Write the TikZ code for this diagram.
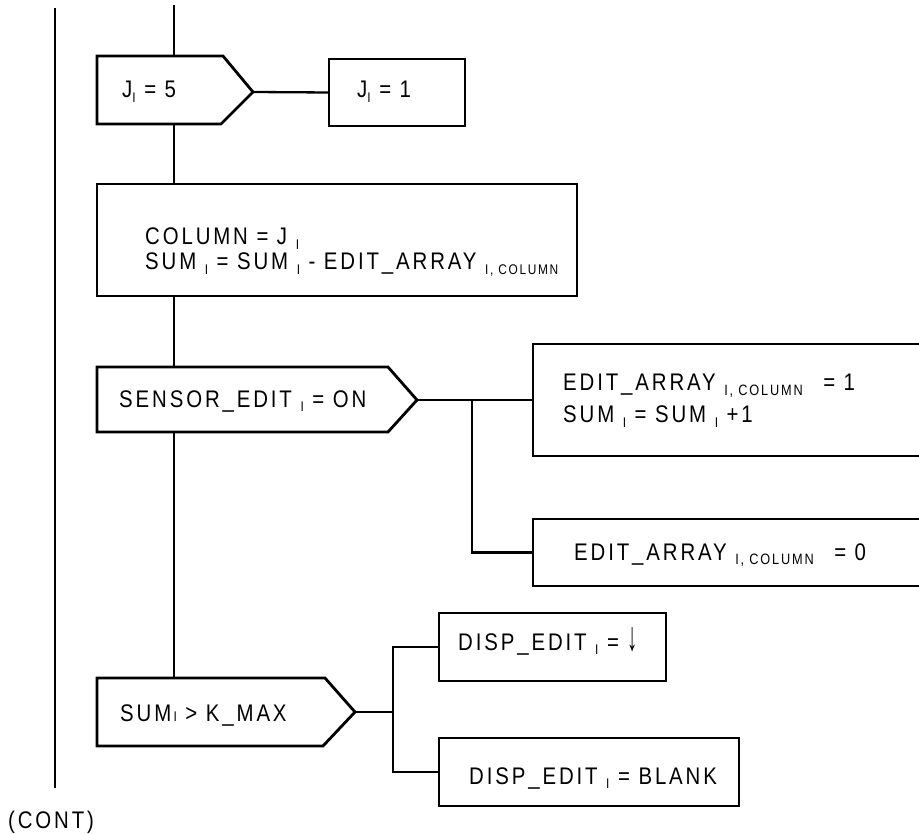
\documentclass[tikz,border=0pt]{standalone}
\usepackage{fontspec}
\usepackage{graphicx}
\newfontfamily\lab[LetterSpace=12,FakeStretch=0.85]{Liberation Sans}
\newcommand\sbs[1]{\raisebox{-4.5pt}{\fontsize{14}{14}\selectfont #1}}
\newcommand\sbl[1]{\raisebox{-4.5pt}{\fontsize{15}{15}\selectfont #1}}
\begin{document}
\begin{tikzpicture}[x=1pt,y=-1pt,
  rbox/.style={draw,line width=2.8pt,inner sep=0pt,outer sep=0pt,anchor=north west},
  pent/.style={draw,line width=2.8pt,line join=miter},
  conn/.style={line width=2.3pt},
  txt/.style={font=\lab\fontsize{24}{26}\selectfont,inner sep=0pt,anchor=base west}]
\useasboundingbox (0,0) rectangle (919,834);

% pentagons
\draw[pent] (97,56) -- (223,56) -- (253,92) -- (221,124) -- (97,124) -- cycle;
\coordinate (j5tip) at (253,92);
\coordinate (j5top) at (174,56);
\coordinate (j5bot) at (174,124);
\draw[pent] (97,367) -- (388,367) -- (417,400) -- (388,432) -- (97,432) -- cycle;
\coordinate (senstip) at (417,400);
\coordinate (senstop) at (174,367);
\coordinate (sensbot) at (174,432);
\draw[pent] (97,678) -- (325,678) -- (355,712) -- (323,746) -- (97,746) -- cycle;
\coordinate (sumtip) at (355,712);
\coordinate (sumtop) at (174,678);

% rectangles
\node[rbox,minimum width=136,minimum height=67] (j1) at (329,59) {};
\node[rbox,minimum width=480,minimum height=112] (col) at (97,184) {};
\node[rbox,minimum width=420,minimum height=112] (ea1) at (533,344) {};
\node[rbox,minimum width=420,minimum height=67] (ea0) at (533,519) {};
\node[rbox,minimum width=227,minimum height=68] (dd) at (439,613) {};
\node[rbox,minimum width=300,minimum height=68] (db) at (439,738) {};

% texts
\node[txt] (t1) at (122,98) {J\sbs{I} = 5};
\node[txt] (t2) at (357,98) {J\sbs{I} = 1};
\node[txt] (t3) at (145,245) {COLUMN = J \sbs{I}};
\node[txt] (t4) at (145,270) {SUM \sbs{I} = SUM \sbs{I} - EDIT\_ARRAY \sbs{I, COLUMN}};
\node[txt] (t5) at (119,407) {SENSOR\_EDIT \sbs{I} = ON};
\node[txt] (t6) at (563,391) {EDIT\_ARRAY \sbl{I, COLUMN}\hspace{12pt} = 1};
\node[txt] (t7) at (563,423) {SUM \sbs{I} = SUM \sbs{I} +1};
\node[txt] (t8) at (574,560) {EDIT\_ARRAY \sbl{I, COLUMN}\hspace{12pt} = 0};
\node[txt] (t9) at (458,650) {DISP\_EDIT \sbs{I} = \scalebox{1}[1.7]{↓}};
\node[txt] (t10) at (469,784) {DISP\_EDIT \sbs{I} = BLANK};
\node[txt] (t11) at (120,721) {SUM{\fontsize{14}{14}\selectfont\,I} > K\_MAX};
\node[txt] (cont) at (8,828) {(CONT)};

% connectors
\coordinate (ltop) at (55,8);
\coordinate (lbot) at (55,788);
\draw[conn] (ltop) -- (lbot);
\coordinate (mtop) at (174,5);
\draw[conn] (mtop) -- (j5top);
\draw[conn] (j5bot) -- (col.north -| j5bot);
\draw[conn] (col.south -| j5bot) -- (senstop);
\draw[conn] (sensbot) -- (sumtop);
\draw[conn] (j5tip) -- (j1.west);
\draw[conn] (senstip) -- (ea1.west);
\coordinate (b1) at (472,400);
\draw[conn] (b1) |- (ea0.west);
\coordinate (b2) at (393,712);
\draw[conn] (sumtip) -- (b2);
\draw[conn] (dd.west) -| (b2) |- (db.west);
\end{tikzpicture}
\end{document}
